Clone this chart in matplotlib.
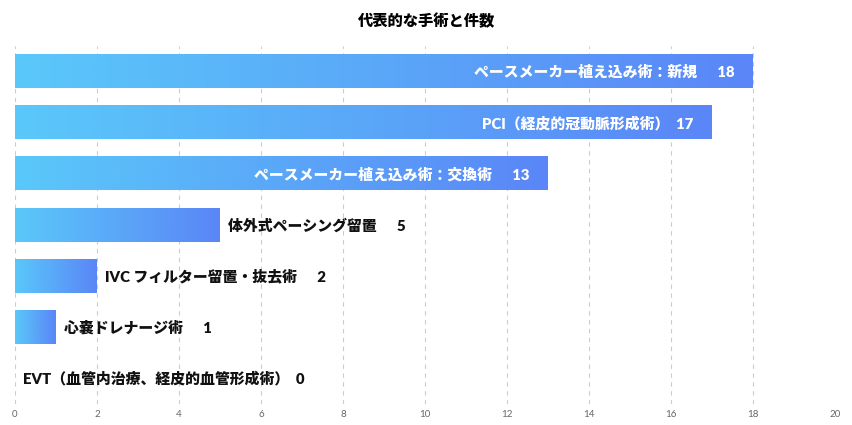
import numpy as np
import matplotlib.pyplot as plt
from matplotlib.colors import LinearSegmentedColormap

plt.rcParams['font.family'] = ['Lato', 'Noto Sans CJK JP', 'DejaVu Sans']

procedures = [
    "ペースメーカー植え込み術：新規",
    "PCI（経皮的冠動脈形成術）",
    "ペースメーカー植え込み術：交換術",
    "体外式ペーシング留置",
    "IVC フィルター留置・抜去術",
    "心嚢ドレナージ術",
    "EVT（血管内治療、経皮的血管形成術）",
]
counts = [18, 17, 13, 5, 2, 1, 0]

cmap = LinearSegmentedColormap.from_list("grad", ["#5ac8fa", "#5a86f7"])
grad = np.linspace(0, 1, 256).reshape(1, -1)

fig = plt.figure(figsize=(8.53, 4.25), dpi=100)
ax = fig.add_axes([15 / 853, 1 - 404 / 425, 820 / 853, 358 / 425])

bar_h = 0.65
for i, (name, v) in enumerate(zip(procedures, counts)):
    if v > 0:
        ax.imshow(grad, cmap=cmap, aspect='auto', interpolation='bilinear',
                  extent=[0, v, i + bar_h / 2, i - bar_h / 2], zorder=2)
    gap = "  " if name[-1] == "）" else "      "
    label = f"{name}{gap}{v}"
    if v >= 10:
        ax.text(v - 0.45, i, label, ha='right', va='center', color='white',
                fontsize=10.7, fontweight='heavy', zorder=3)
    else:
        ax.text(v + 0.2, i, label, ha='left', va='center', color='#111111',
                fontsize=10.7, fontweight='heavy', zorder=3)

ax.set_xlim(0, 20)
ax.set_ylim(len(procedures) - 0.5, -0.5)
ax.set_xticks(np.arange(0, 21, 2))
ax.set_yticks([])
ax.grid(axis='x', color='#cccccc', linestyle=(0, (4, 4)), linewidth=0.8, zorder=0)
ax.tick_params(axis='x', length=0, labelsize=7, labelcolor='#666666', pad=4)
for s in ax.spines.values():
    s.set_visible(False)

fig.text(0.5, 1 - 20 / 425, "代表的な手術と件数", ha='center', va='center',
         fontsize=11, fontweight='heavy')

fig.savefig("out.png", dpi=100)
